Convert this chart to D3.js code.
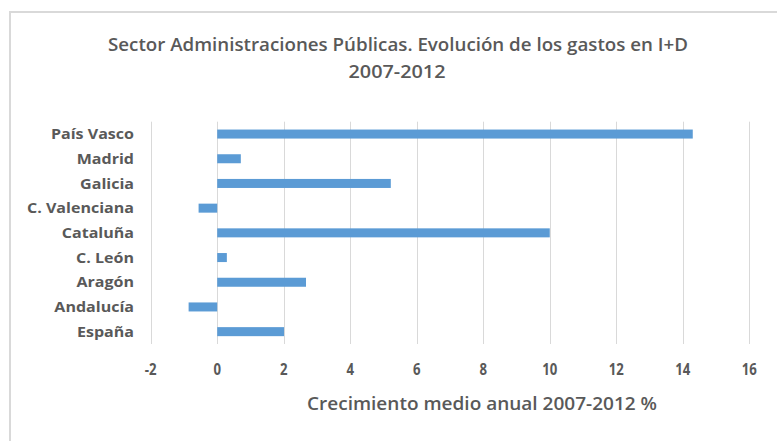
<!DOCTYPE html>
<html>
<head>
<meta charset="utf-8">
<script src="https://cdn.jsdelivr.net/npm/d3@7/dist/d3.min.js"></script>
<style>
  html, body { margin: 0; padding: 0; background: #fff; }
  svg { display: block; }
  text { font-family: "Open Sans", "Liberation Sans", sans-serif; fill: #595959; }
</style>
</head>
<body>
<svg id="chart" width="777" height="441"></svg>
<script>
// ---- data ----
const categories = ["País Vasco", "Madrid", "Galicia", "C. Valenciana", "Cataluña", "C. León", "Aragón", "Andalucía", "España"];
const values = [14.3, 0.71, 5.22, -0.56, 10.0, 0.29, 2.67, -0.86, 2.01];
const tickValues = [-2, 0, 2, 4, 6, 8, 10, 12, 14, 16];
const tickLabelsText = ["-2", "0", "2", "4", "6", "8", "10", "12", "14", "16"];
const titleLines = ["Sector Administraciones Públicas. Evolución de los gastos en I+D", "2007-2012"];
const axisTitle = "Crecimiento medio anual 2007-2012 %";

const svg = d3.select("#chart");

// chart frame (cropped, only top/left visible)
svg.append("rect")
  .attr("x", 10).attr("y", 12)
  .attr("width", 800).attr("height", 460)
  .attr("fill", "#fff")
  .attr("stroke", "#D9D9D9").attr("stroke-width", 2);

const plot = { left: 150.7, right: 749.3, top: 121.7, bottom: 344 };

const x = d3.scaleLinear().domain([-2, 16]).range([plot.left, plot.right]);
const y = d3.scaleBand().domain(categories).range([plot.top, plot.bottom]).paddingInner(0.635).paddingOuter(0.3175);

// gridlines
svg.append("g")
  .selectAll("line")
  .data(tickValues)
  .join("line")
  .attr("x1", d => Math.round(x(d)) + 0.5)
  .attr("x2", d => Math.round(x(d)) + 0.5)
  .attr("y1", plot.top)
  .attr("y2", plot.bottom)
  .attr("stroke", "#D9D9D9")
  .attr("stroke-width", 1);

// bars
svg.append("g")
  .selectAll("rect")
  .data(categories.map((c, i) => ({ c, v: values[i] })))
  .join("rect")
  .attr("x", d => x(Math.min(0, d.v)))
  .attr("width", d => Math.abs(x(d.v) - x(0)))
  .attr("y", d => y(d.c))
  .attr("height", y.bandwidth())
  .attr("fill", "#5B9BD5");

// category labels
const catLabels = svg.append("g").selectAll("text")
  .data(categories)
  .join("text")
  .attr("x", 134)
  .attr("y", d => y(d) + y.bandwidth() / 2)
  .attr("dy", "0.36em")
  .attr("text-anchor", "end")
  .attr("font-size", 14.5)
  .attr("font-weight", 700)
  .text(d => d);
// scale to match reference width of "C. Valenciana" (~107px)
{
  const ref = catLabels.filter(d => d === "C. Valenciana").node().getComputedTextLength();
  const r = 107 / ref;
  catLabels.each(function () {
    const w = this.getComputedTextLength();
    d3.select(this).attr("textLength", w * r).attr("lengthAdjust", "spacingAndGlyphs");
  });
}

// tick labels
const tickLabels = svg.append("g").selectAll("text")
  .data(tickValues)
  .join("text")
  .attr("x", d => x(d))
  .attr("y", 374.5)
  .attr("text-anchor", "middle")
  .attr("font-size", 15.5)
  .attr("font-weight", 700)
  .text((d, i) => tickLabelsText[i]);
tickLabels.each(function () {
  const w = this.getComputedTextLength();
  d3.select(this).attr("textLength", w * 0.85).attr("lengthAdjust", "spacingAndGlyphs");
});

// title
svg.append("text")
  .attr("x", 398).attr("y", 51)
  .attr("text-anchor", "middle")
  .attr("font-size", 17.5)
  .attr("font-weight", 600)
  .attr("textLength", 580).attr("lengthAdjust", "spacingAndGlyphs")
  .text(titleLines[0]);
svg.append("text")
  .attr("x", 397).attr("y", 78)
  .attr("text-anchor", "middle")
  .attr("font-size", 17.5)
  .attr("font-weight", 600)
  .attr("textLength", 97).attr("lengthAdjust", "spacingAndGlyphs")
  .text(titleLines[1]);

// axis title
svg.append("text")
  .attr("x", 482).attr("y", 410)
  .attr("text-anchor", "middle")
  .attr("font-size", 17.5)
  .attr("font-weight", 600)
  .attr("textLength", 350)
  .attr("lengthAdjust", "spacingAndGlyphs")
  .text(axisTitle);
</script>
</body>
</html>
